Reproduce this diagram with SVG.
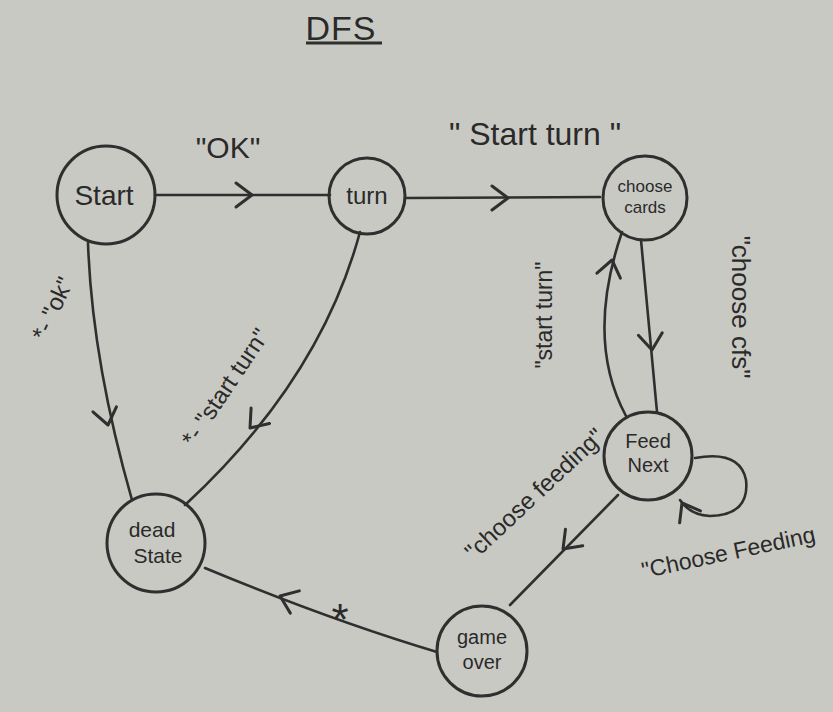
<svg xmlns="http://www.w3.org/2000/svg" width="833" height="712" viewBox="0 0 833 712">
<defs>
<style>
.bg{fill:#c9c9c3}
.node{fill:none;stroke:#2f2f2f;stroke-width:3}
.edge{fill:none;stroke:#2f2f2f;stroke-width:2.6;stroke-linecap:round}
.ah{fill:none;stroke:#2f2f2f;stroke-width:3;stroke-linecap:round;stroke-linejoin:round}
text{font-family:"Comic Sans MS","Liberation Sans","DejaVu Sans",sans-serif;fill:#2a2a2a}
.nl{text-anchor:middle}
.lbl{text-anchor:middle}
</style>
<path id="arr" d="M -16 -12 L 0 0 L -16 12"/>
</defs>
<rect class="bg" x="0" y="0" width="833" height="712"/>

<g id="title">
<text x="341" y="40" text-anchor="middle" font-size="34" style="letter-spacing:1px">DFS</text>
<line x1="306" y1="43" x2="382" y2="43" stroke="#2f2f2f" stroke-width="3"/>
</g>

<g id="connectors">
<path class="edge" d="M155 195 L330 195"/>
<use href="#arr" class="ah" transform="translate(252,195)"/>
<path class="edge" d="M405 198 L600 197"/>
<use href="#arr" class="ah" transform="translate(508,198)"/>
<path class="edge" d="M88 243 Q92 360 132 500"/>
<use href="#arr" class="ah" transform="translate(108,425) rotate(78)"/>
<path class="edge" d="M360 232 Q320 380 185 505"/>
<use href="#arr" class="ah" transform="translate(250,428) rotate(130)"/>
<path class="edge" d="M641 240 L657 412"/>
<use href="#arr" class="ah" transform="translate(652,350) rotate(84)"/>
<path class="edge" d="M626 416 Q585 340 622 232"/>
<use href="#arr" class="ah" transform="translate(612,260) rotate(-78)"/>
<path class="edge" d="M695 458 Q740 450 746 480 Q750 515 710 516 Q690 515 680 500"/>
<use href="#arr" class="ah" transform="translate(682,503) rotate(-120)"/>
<path class="edge" d="M618 495 L510 605"/>
<use href="#arr" class="ah" transform="translate(563,549) rotate(134)"/>
<path class="edge" d="M437 652 Q330 620 205 568"/>
<use href="#arr" class="ah" transform="translate(280,596) rotate(-158)"/>
</g>

<g id="labels">
<text class="lbl" x="228" y="158" font-size="30">"OK"</text>
<text class="lbl" x="535" y="145" font-size="32">" Start turn "</text>
<text class="lbl" x="0" y="0" font-size="24" transform="translate(60,312) rotate(-65)">*- "ok"</text>
<text class="lbl" x="0" y="0" font-size="24" transform="translate(232,392) rotate(-56)">*- "start turn"</text>
<text class="lbl" x="0" y="0" font-size="23" transform="translate(552,315) rotate(-90)">"start turn"</text>
<text class="lbl" x="0" y="0" font-size="26" transform="translate(732,307) rotate(90)">"choose cfs"</text>
<text class="lbl" x="0" y="0" font-size="24" transform="translate(540,500) rotate(-43)">"choose feeding"</text>
<text class="lbl" x="0" y="0" font-size="23" transform="translate(730,560) rotate(-12)">"Choose Feeding</text>
<text class="lbl" x="340" y="635" font-size="44">*</text>
</g>

<g id="node-start">
<circle class="node" cx="106" cy="195" r="49"/>
<text class="nl" x="104" y="205" font-size="28">Start</text>
</g>
<g id="node-turn">
<circle class="node" cx="367" cy="196" r="38"/>
<text class="nl" x="367" y="204" font-size="24">turn</text>
</g>
<g id="node-choose-cards">
<circle class="node" cx="645" cy="198" r="42"/>
<text class="nl" x="645" y="192" font-size="17">choose</text>
<text class="nl" x="645" y="213" font-size="17">cards</text>
</g>
<g id="node-feed-next">
<circle class="node" cx="648" cy="456" r="44"/>
<text class="nl" x="648" y="448" font-size="20">Feed</text>
<text class="nl" x="648" y="472" font-size="20">Next</text>
</g>
<g id="node-dead-state">
<circle class="node" cx="156" cy="543" r="49"/>
<text class="nl" x="152" y="537" font-size="21">dead</text>
<text class="nl" x="158" y="563" font-size="21">State</text>
</g>
<g id="node-game-over">
<circle class="node" cx="482" cy="651" r="45"/>
<text class="nl" x="482" y="644" font-size="20">game</text>
<text class="nl" x="482" y="669" font-size="20">over</text>
</g>
</svg>
